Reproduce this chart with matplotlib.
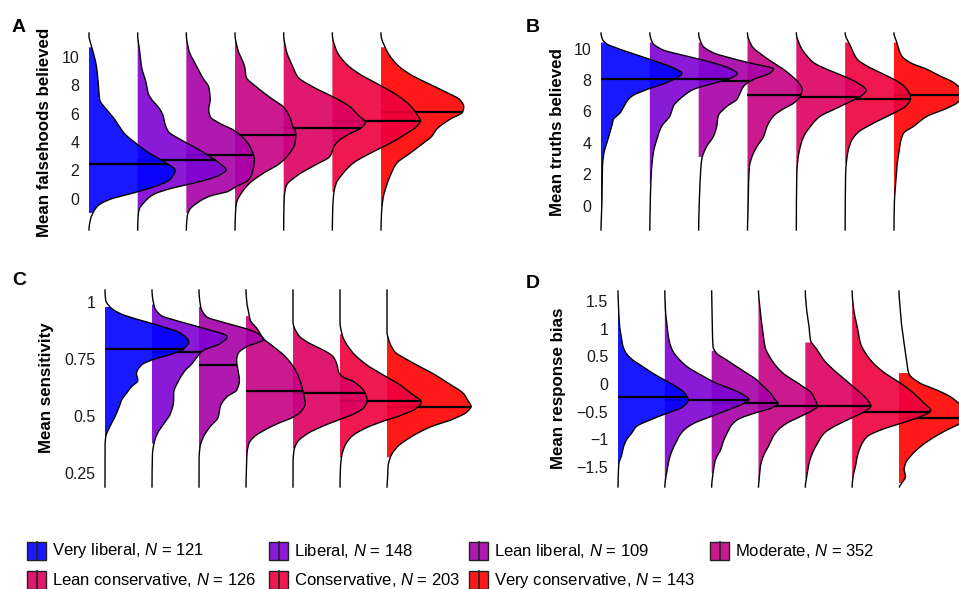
import numpy as np
import matplotlib
matplotlib.use("Agg")
import matplotlib.pyplot as plt
from matplotlib.patches import Rectangle
from matplotlib.lines import Line2D

plt.rcParams['font.family'] = ['Liberation Sans', 'DejaVu Sans']
plt.rcParams['mathtext.fontset'] = 'custom'
plt.rcParams['mathtext.rm'] = 'Liberation Sans'
plt.rcParams['mathtext.it'] = 'Liberation Sans:italic'

# ---------------- data ----------------
groups = ["Very liberal", "Liberal", "Lean liberal", "Moderate",
          "Lean conservative", "Conservative", "Very conservative"]
group_n = [121, 148, 109, 352, 126, 203, 143]
colors = ['#0000ff', '#7d00d4', '#a700a7', '#c60084', '#dc0060', '#ee003d', '#ff0000']

# Panel A: mean falsehoods believed (density profile knots: y values, half-widths)
fals_y = [
    [11.5, 10.8, 9.4, 8.2, 7.0, 6.3, 5.6, 4.6, 3.9, 3.2, 2.5, 2.0, 1.35, 0.9, 0.4, -0.05, -0.5, -1.0, -1.45, -2.2],
    [11.6, 10.2, 9.3, 8.1, 7.4, 7.0, 6.3, 5.8, 5.3, 4.75, 4.2, 3.7, 3.0, 2.4, 2.05, 1.7, 1.35, 1.0, 0.65, 0.3, -0.3, -0.75, -1.2, -2.2],
    [11.6, 10.5, 9.3, 8.4, 7.9, 7.0, 6.3, 5.8, 5.3, 4.85, 4.15, 3.45, 2.75, 2.05, 1.6, 1.24, 0.9, 0.5, 0.2, -0.3, -0.75, -1.2, -2.2],
    [11.6, 10.5, 9.3, 8.6, 7.9, 7.0, 6.5, 5.8, 5.1, 4.6, 3.9, 3.2, 2.5, 1.8, 1.1, 0.4, -0.3, -1.0, -2.2],
    [11.6, 10.5, 9.3, 8.6, 7.9, 7.2, 6.5, 5.8, 5.4, 5.0, 4.6, 4.15, 3.8, 3.0, 2.3, 1.6, 0.9, 0.0, -2.2],
    [11.6, 10.5, 9.5, 8.8, 7.9, 7.2, 6.5, 5.9, 5.5, 5.1, 4.6, 3.9, 3.2, 2.5, 1.8, 1.1, 0.4, -0.5, -2.2],
    [11.6, 10.5, 9.5, 8.8, 8.1, 7.4, 7.0, 6.5, 6.14, 5.6, 4.9, 4.4, 3.9, 3.2, 2.5, 1.8, 0.9, 0.0, -1.0, -2.2],
]
fals_w = [
    [0, 0.05, 0.15, 0.19, 0.22, 0.36, 0.53, 0.73, 0.97, 1.25, 1.60, 1.77, 1.66, 1.38, 0.90, 0.42, 0.18, 0.08, 0.03, 0],
    [0, 0.05, 0.08, 0.18, 0.22, 0.29, 0.46, 0.53, 0.56, 0.63, 0.87, 1.14, 1.48, 1.72, 1.82, 1.70, 1.42, 1.01, 0.60, 0.32, 0.12, 0.03, 0.01, 0],
    [0, 0.05, 0.22, 0.36, 0.46, 0.49, 0.46, 0.49, 0.70, 0.97, 1.21, 1.34, 1.40, 1.37, 1.33, 1.25, 1.04, 0.84, 0.49, 0.22, 0.07, 0.02, 0],
    [0, 0.06, 0.20, 0.23, 0.44, 0.78, 0.99, 1.12, 1.19, 1.25, 1.23, 1.12, 0.92, 0.58, 0.30, 0.13, 0.03, 0.01, 0],
    [0, 0.05, 0.19, 0.29, 0.60, 1.01, 1.36, 1.56, 1.68, 1.59, 1.36, 1.15, 1.05, 0.95, 0.60, 0.26, 0.05, 0.01, 0],
    [0, 0.08, 0.29, 0.56, 1.04, 1.38, 1.62, 1.75, 1.81, 1.73, 1.52, 1.18, 0.77, 0.42, 0.22, 0.08, 0.03, 0.01, 0],
    [0, 0.11, 0.32, 0.59, 0.99, 1.41, 1.62, 1.70, 1.68, 1.41, 1.14, 1.04, 0.86, 0.59, 0.32, 0.21, 0.11, 0.04, 0.01, 0],
]
fals_mean = [2.48, 2.71, 3.10, 4.53, 5.02, 5.51, 6.14]
fals_lo = [-1.0, -1.2, -1.0, -0.7, -0.5, 0.5, -0.5]
fals_hi = [10.7, 11.5, 11.5, 11.5, 11.5, 11.5, 10.7]

# Panel B: mean truths believed
truth_y = [
    [11.0, 10.6, 10.3, 9.96, 9.53, 9.1, 8.68, 8.42, 8.15, 7.83, 7.4, 6.97, 6.65, 6.33, 5.9, 5.48, 5.05, 4.63, 4.0, 3.35, 2.5, 0.36, -0.9, -1.55],
    [11.0, 10.4, 9.96, 9.53, 9.1, 8.68, 8.42, 8.15, 7.83, 7.4, 6.97, 6.33, 5.7, 5.05, 4.2, 3.35, 2.1, 0.36, -1.55],
    [11.0, 10.2, 9.74, 9.3, 9.0, 8.72, 8.46, 8.04, 7.6, 7.18, 6.76, 6.33, 5.7, 5.05, 4.4, 3.75, 2.9, 1.6, -0.06, -1.55],
    [11.0, 10.17, 9.53, 9.1, 8.68, 8.25, 7.83, 7.4, 6.97, 6.54, 6.12, 5.7, 5.05, 4.4, 3.75, 3.1, 2.5, 1.2, -0.5, -1.55],
    [11.0, 10.17, 9.53, 9.1, 8.68, 8.25, 7.83, 7.36, 6.97, 6.54, 6.12, 5.7, 5.05, 4.4, 3.75, 2.9, 2.07, -1.55],
    [11.0, 10.17, 9.32, 8.89, 8.46, 8.04, 7.6, 7.18, 6.8, 6.33, 5.9, 5.27, 4.63, 4.0, 3.13, 2.07, -1.55],
    [11.0, 10.38, 9.53, 9.1, 8.68, 8.25, 7.83, 7.4, 7.0, 6.54, 6.12, 5.7, 5.05, 4.63, 4.0, 3.35, 2.5, 1.2, 0.36, -1.55],
]
truth_w = [
    [0, 0.03, 0.12, 0.39, 0.80, 1.21, 1.55, 1.66, 1.55, 1.34, 0.94, 0.63, 0.53, 0.47, 0.39, 0.25, 0.22, 0.18, 0.12, 0.06, 0.03, 0.02, 0.005, 0],
    [0, 0.05, 0.24, 0.75, 1.30, 1.68, 1.79, 1.68, 1.34, 0.89, 0.68, 0.48, 0.41, 0.24, 0.14, 0.07, 0.03, 0.01, 0],
    [0, 0.08, 0.30, 0.78, 1.18, 1.53, 1.47, 1.12, 0.92, 0.85, 0.78, 0.58, 0.40, 0.37, 0.30, 0.16, 0.06, 0.03, 0.01, 0],
    [0, 0.09, 0.33, 0.53, 0.74, 0.91, 1.05, 1.12, 1.08, 0.95, 0.71, 0.53, 0.40, 0.33, 0.19, 0.09, 0.04, 0.02, 0.01, 0],
    [0, 0.08, 0.22, 0.36, 0.63, 0.97, 1.25, 1.43, 1.32, 1.04, 0.77, 0.49, 0.29, 0.15, 0.08, 0.03, 0.01, 0],
    [0, 0.11, 0.25, 0.45, 0.73, 1.00, 1.21, 1.31, 1.34, 1.24, 1.00, 0.59, 0.25, 0.11, 0.04, 0.01, 0],
    [0, 0.06, 0.16, 0.34, 0.68, 0.95, 1.23, 1.37, 1.42, 1.29, 1.02, 0.68, 0.40, 0.20, 0.13, 0.10, 0.06, 0.03, 0.01, 0],
]
truth_mean = [8.04, 8.08, 7.93, 7.08, 6.93, 6.82, 7.04]
truth_lo = [-0.7, 1.4, 3.1, -0.7, 1.85, 2.7, 0.6]
truth_hi = [10.4, 10.4, 10.4, 11.0, 11.0, 10.4, 10.4]

# Panel C: mean sensitivity
sens_y = [
    [1.054, 1.010, 0.981, 0.952, 0.922, 0.893, 0.863, 0.827, 0.797, 0.775, 0.746, 0.724, 0.687, 0.658, 0.629, 0.599, 0.570, 0.541, 0.497, 0.453, 0.408, 0.364, 0.19],
    [1.054, 0.981, 0.944, 0.915, 0.886, 0.849, 0.819, 0.790, 0.761, 0.731, 0.702, 0.658, 0.599, 0.570, 0.511, 0.467, 0.423, 0.379, 0.335, 0.19],
    [1.054, 0.981, 0.937, 0.908, 0.878, 0.856, 0.837, 0.805, 0.775, 0.746, 0.702, 0.658, 0.614, 0.585, 0.541, 0.497, 0.453, 0.408, 0.364, 0.306, 0.19],
    [1.054, 0.996, 0.952, 0.922, 0.886, 0.839, 0.805, 0.761, 0.717, 0.673, 0.629, 0.585, 0.555, 0.526, 0.497, 0.467, 0.438, 0.408, 0.379, 0.335, 0.276, 0.19],
    [1.054, 0.914, 0.855, 0.826, 0.804, 0.782, 0.760, 0.724, 0.695, 0.673, 0.651, 0.607, 0.570, 0.541, 0.511, 0.482, 0.453, 0.423, 0.386, 0.350, 0.291, 0.19],
    [1.054, 0.914, 0.855, 0.782, 0.724, 0.680, 0.636, 0.599, 0.563, 0.533, 0.504, 0.475, 0.445, 0.408, 0.364, 0.320, 0.276, 0.19],
    [1.054, 0.870, 0.840, 0.782, 0.746, 0.710, 0.687, 0.643, 0.599, 0.563, 0.544, 0.519, 0.489, 0.453, 0.408, 0.364, 0.320, 0.276, 0.218, 0.19],
]
sens_w = [
    [0, 0.014, 0.10, 0.31, 0.74, 1.23, 1.62, 1.78, 1.68, 1.45, 0.98, 0.77, 0.67, 0.70, 0.56, 0.45, 0.35, 0.30, 0.21, 0.10, 0.014, 0, 0],
    [0, 0.05, 0.18, 0.60, 1.10, 1.60, 1.45, 1.10, 0.96, 0.85, 0.71, 0.57, 0.46, 0.46, 0.39, 0.25, 0.11, 0.04, 0.01, 0],
    [0, 0.035, 0.16, 0.59, 1.09, 1.30, 1.37, 1.01, 0.83, 0.80, 0.83, 0.86, 0.80, 0.59, 0.45, 0.41, 0.23, 0.09, 0.02, 0, 0],
    [0, 0.02, 0.06, 0.09, 0.23, 0.38, 0.59, 0.84, 1.01, 1.12, 1.19, 1.24, 1.26, 1.19, 1.01, 0.66, 0.38, 0.16, 0.06, 0.02, 0.01, 0],
    [0, 0.0, 0.12, 0.30, 0.51, 0.72, 0.86, 0.94, 0.97, 1.06, 1.30, 1.52, 1.58, 1.52, 1.30, 0.94, 0.59, 0.30, 0.09, 0.02, 0, 0],
    [0, 0.0, 0.05, 0.26, 0.58, 0.93, 1.29, 1.52, 1.73, 1.61, 1.29, 0.87, 0.51, 0.23, 0.09, 0.03, 0.01, 0],
    [0, 0.0, 0.03, 0.17, 0.45, 0.77, 0.98, 1.32, 1.63, 1.74, 1.79, 1.70, 1.42, 0.92, 0.50, 0.21, 0.07, 0.02, 0.01, 0],
]
sens_mean = [0.796, 0.780, 0.724, 0.610, 0.604, 0.566, 0.543]
sens_lo = [0.41, 0.38, 0.36, 0.22, 0.36, 0.32, 0.32]
sens_hi = [0.98, 0.99, 0.98, 0.94, 0.90, 0.86, 0.85]

# Panel D: mean response bias
bias_y = [
    [1.68, 1.33, 1.03, 0.85, 0.67, 0.55, 0.43, 0.31, 0.19, 0.07, -0.05, -0.17, -0.29, -0.41, -0.53, -0.65, -0.77, -0.89, -1.01, -1.13, -1.31, -1.43, -1.61, -1.86],
    [1.68, 1.33, 1.03, 0.79, 0.61, 0.49, 0.31, 0.13, 0.01, -0.11, -0.20, -0.28, -0.35, -0.47, -0.59, -0.71, -0.83, -0.95, -1.07, -1.19, -1.37, -1.55, -1.73, -1.86],
    [1.68, 1.03, 0.67, 0.55, 0.43, 0.31, 0.19, 0.07, -0.05, -0.17, -0.29, -0.35, -0.44, -0.53, -0.65, -0.77, -0.89, -1.01, -1.19, -1.37, -1.61, -1.86],
    [1.68, 1.39, 1.15, 0.91, 0.67, 0.49, 0.31, 0.19, 0.07, -0.05, -0.17, -0.29, -0.40, -0.50, -0.59, -0.71, -0.83, -0.95, -1.13, -1.31, -1.49, -1.73, -1.86],
    [1.68, 1.33, 1.03, 0.79, 0.61, 0.43, 0.25, 0.07, -0.11, -0.29, -0.40, -0.50, -0.62, -0.77, -0.89, -1.07, -1.25, -1.43, -1.67, -1.86],
    [1.68, 1.33, 1.03, 0.73, 0.55, 0.37, 0.19, 0.01, -0.17, -0.35, -0.48, -0.59, -0.71, -0.83, -0.95, -1.13, -1.31, -1.49, -1.67, -1.86],
    [1.68, 1.33, 1.03, 0.79, 0.55, 0.37, 0.19, 0.01, -0.11, -0.23, -0.35, -0.47, -0.59, -0.71, -0.77, -0.89, -1.13, -1.31, -1.43, -1.55, -1.67, -1.79, -1.86],
]
bias_w = [
    [0, 0.014, 0.036, 0.07, 0.11, 0.18, 0.32, 0.54, 0.75, 1.00, 1.25, 1.43, 1.50, 1.39, 1.04, 0.68, 0.39, 0.29, 0.18, 0.12, 0.07, 0.02, 0.007, 0],
    [0, 0.014, 0.05, 0.09, 0.16, 0.26, 0.48, 0.84, 1.11, 1.48, 1.69, 1.80, 1.69, 1.34, 0.98, 0.62, 0.41, 0.30, 0.23, 0.16, 0.09, 0.05, 0.014, 0],
    [0, 0.014, 0.03, 0.11, 0.33, 0.54, 0.76, 0.97, 1.11, 1.26, 1.36, 1.42, 1.26, 0.90, 0.54, 0.40, 0.33, 0.26, 0.19, 0.08, 0.03, 0],
    [0, 0.03, 0.06, 0.10, 0.14, 0.24, 0.39, 0.53, 0.74, 0.96, 1.14, 1.21, 1.26, 1.10, 0.89, 0.60, 0.42, 0.31, 0.21, 0.10, 0.04, 0.014, 0],
    [0, 0.03, 0.08, 0.11, 0.26, 0.40, 0.61, 0.86, 1.11, 1.33, 1.40, 1.26, 0.97, 0.61, 0.40, 0.26, 0.15, 0.08, 0.03, 0],
    [0, 0.036, 0.11, 0.18, 0.29, 0.46, 0.71, 1.04, 1.32, 1.54, 1.68, 1.46, 1.04, 0.61, 0.32, 0.18, 0.11, 0.07, 0.02, 0],
    [0, 0.03, 0.06, 0.10, 0.14, 0.17, 0.21, 0.46, 0.81, 1.10, 1.28, 1.45, 1.55, 1.32, 1.17, 0.89, 0.46, 0.24, 0.14, 0.11, 0.14, 0.06, 0.01],
]
bias_mean = [-0.24, -0.29, -0.34, -0.39, -0.39, -0.50, -0.61]
bias_lo = [-1.86, -1.79, -1.61, -1.86, -1.70, -1.86, -1.79]
bias_hi = [1.68, 1.60, 0.60, 1.68, 0.75, 1.68, 0.20]

fals_ticks = [0, 2, 4, 6, 8, 10]
truth_ticks = [0, 2, 4, 6, 8, 10]
sens_ticks = [0.25, 0.5, 0.75, 1.0]
sens_ticklabels = ["0.25", "0.5", "0.75", "1"]
bias_ticks = [-1.5, -1.0, -0.5, 0.0, 0.5, 1.0, 1.5]
bias_ticklabels = ["\u22121.5", "\u22121", "\u22120.5", "0", "0.5", "1", "1.5"]

# ---------------- drawing ----------------
W, H = 959, 589
fig = plt.figure(figsize=(W / 100, H / 100), dpi=100)


def pchip(xk, yk, xn):
    xk = np.asarray(xk, float)
    yk = np.asarray(yk, float)
    xn = np.clip(np.asarray(xn, float), xk[0], xk[-1])
    n = len(xk)
    h = np.diff(xk)
    d = np.diff(yk) / h
    m = np.zeros(n)
    for k in range(1, n - 1):
        if d[k - 1] * d[k] > 0:
            w1 = 2 * h[k] + h[k - 1]
            w2 = h[k] + 2 * h[k - 1]
            m[k] = (w1 + w2) / (w1 / d[k - 1] + w2 / d[k])
    idx = np.clip(np.searchsorted(xk, xn) - 1, 0, n - 2)
    t = (xn - xk[idx]) / h[idx]
    h00 = 2 * t**3 - 3 * t**2 + 1
    h10 = t**3 - 2 * t**2 + t
    h01 = -2 * t**3 + 3 * t**2
    h11 = t**3 - t**2
    return (h00 * yk[idx] + h10 * h[idx] * m[idx] + h01 * yk[idx + 1]
            + h11 * h[idx] * m[idx + 1])


def add_axes_px(left, top, width, height):
    return fig.add_axes([left / W, 1 - (top + height) / H, width / W, height / H])


def draw_panel(ax, ys, ws, means, lo, hi, ylim, ticks, ticklabels):
    grid = np.linspace(ylim[0], ylim[1], 1200)
    for i in reversed(range(len(ys))):
        yk = np.array(ys[i], float)
        wk = np.array(ws[i], float)
        order = np.argsort(yk)
        yk, wk = yk[order], wk[order]
        ww = np.maximum(pchip(yk, wk, grid), 0)
        ww[(grid < yk[0]) | (grid > yk[-1])] = 0
        z = 10 * (len(ys) - i)
        mask = (grid >= lo[i]) & (grid <= hi[i])
        ax.fill_betweenx(grid[mask], i, i + ww[mask], facecolor=colors[i],
                         alpha=0.9, linewidth=0, zorder=z, clip_on=False)
        ax.plot(i + ww, grid, color='black', lw=1.0, zorder=z + 1, clip_on=False)
        wm = float(np.maximum(pchip(yk, wk, [means[i]])[0], 0))
        ax.plot([i, i + wm], [means[i], means[i]], color='black', lw=1.6,
                zorder=z + 2, solid_capstyle='butt', clip_on=False)
    ax.set_ylim(*ylim)
    ax.set_xlim(0, 8.2)
    ax.set_xticks([])
    ax.set_yticks(ticks)
    ax.set_yticklabels(ticklabels)
    ax.tick_params(axis='y', length=0, pad=7, labelsize=11.5, labelcolor='#1a1a1a')
    for s in ax.spines.values():
        s.set_visible(False)
    ax.patch.set_alpha(0)


axA = add_axes_px(89, 33, 8.2 * 48.67, 197)
draw_panel(axA, fals_y, fals_w, fals_mean, fals_lo, fals_hi, (-2.2, 11.7),
           fals_ticks, [str(t) for t in fals_ticks])
axB = add_axes_px(601, 33, 8.2 * 48.83, 197)
draw_panel(axB, truth_y, truth_w, truth_mean, truth_lo, truth_hi, (-1.55, 11.0),
           truth_ticks, [str(t) for t in truth_ticks])
axC = add_axes_px(105, 290, 8.2 * 47.0, 197)
draw_panel(axC, sens_y, sens_w, sens_mean, sens_lo, sens_hi, (0.19, 1.054),
           sens_ticks, sens_ticklabels)
axD = add_axes_px(618, 291, 8.2 * 46.83, 196)
draw_panel(axD, bias_y, bias_w, bias_mean, bias_lo, bias_hi, (-1.86, 1.68),
           bias_ticks, bias_ticklabels)

# y labels
for x, yc, txt in [(45, 132, "Mean falsehoods believed"), (557, 132, "Mean truths believed"),
                   (47, 388, "Mean sensitivity"), (558, 388, "Mean response bias")]:
    fig.text(x / W, 1 - yc / H, txt, rotation=90, ha='center', va='center',
             fontweight='bold', fontsize=12.2)

# panel letters
for x, yb, letter in [(12, 32, "A"), (526, 32, "B"), (12, 285, "C"), (526, 288, "D")]:
    fig.text(x / W, 1 - yb / H, letter, ha='left', va='baseline',
             fontweight='bold', fontsize=14)

# legend
leg_x = [27, 269, 469, 710, 27, 269, 469]
leg_yc = [551, 551, 551, 551, 580, 580, 580]
kw, kh = 19, 18
for i in range(7):
    x0, yc = leg_x[i], leg_yc[i]
    fig.add_artist(Rectangle((x0 / W, 1 - (yc + kh / 2) / H), kw / W, kh / H,
                             transform=fig.transFigure, facecolor=colors[i], alpha=0.9,
                             edgecolor='none'))
    fig.add_artist(Rectangle((x0 / W, 1 - (yc + kh / 2) / H), kw / W, kh / H,
                             transform=fig.transFigure, facecolor='none',
                             edgecolor='#222222', lw=1.0))
    fig.add_artist(Line2D([(x0 + kw / 2) / W] * 2, [1 - (yc + kh / 2) / H, 1 - (yc - kh / 2) / H],
                          transform=fig.transFigure, color='#222222', lw=1.2))
    fig.text((x0 + kw + 6) / W, 1 - yc / H,
             groups[i] + ", $\\mathit{N}$ = " + str(group_n[i]),
             ha='left', va='center', fontsize=12)

fig.savefig("out.png", dpi=100)
